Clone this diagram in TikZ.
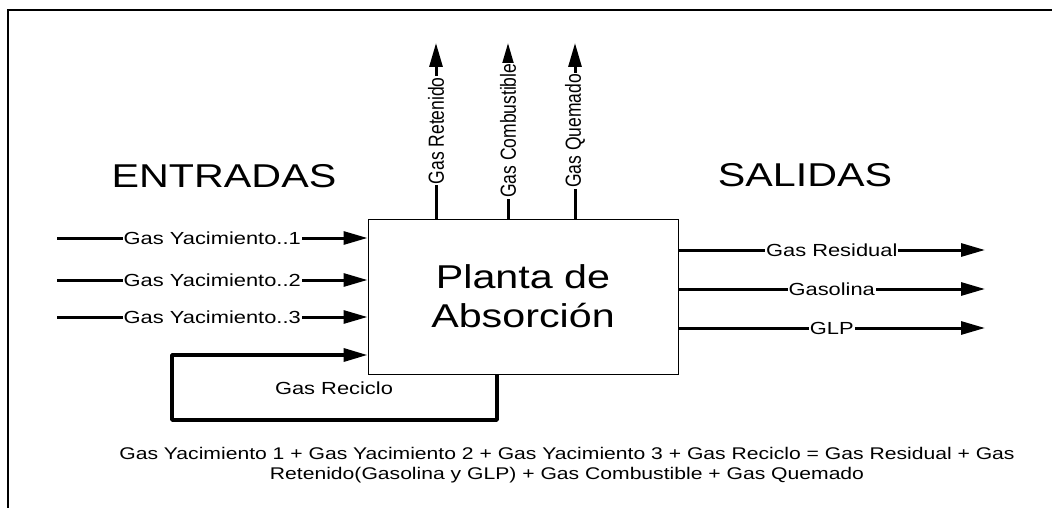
\documentclass[tikz,border=0pt]{standalone}
\usepackage{fontspec}
\setmainfont{Liberation Sans}[FakeStretch=1.25]
\newfontfamily\vertfont{Liberation Sans}
\usetikzlibrary{arrows.meta}
\tikzset{
    flow/.style={line width=3pt, -{Triangle[length=24pt, width=13pt]}},
    lbl/.style={fill=white, inner sep=1pt, font=\fontsize{17.5}{20}\selectfont},
    vlbl/.style={lbl, rotate=90, font=\vertfont\fontsize{17.5}{20}\selectfont},
    titulo/.style={font=\fontsize{33}{39}\selectfont},
}

\begin{document}
\begin{tikzpicture}[x=1pt, y=-1pt]
    \useasboundingbox (0,0) rectangle (1052,508);
    %Frame
    \draw[line width=2.5pt] (8,508) -- (8,10) -- (1052,10);
    %Plant
    \node[draw, line width=1pt, minimum width=310pt, minimum height=155pt, align=center, titulo] (planta) at (523,296.5) {Planta de\\Absorci\'on};
    \node[titulo] (entradas) at (224,176) {ENTRADAS};
    \node[titulo] (salidas) at (805,175) {SALIDAS};
    %Inputs
    \foreach \i/\y in {1/238,2/280,3/317}{
        \coordinate (in\i) at (57,\y);
        \draw[flow] (in\i) -- (in\i -| planta.west) node[lbl, midway] (lin\i) {Gas Yacimiento..\i};
    };
    %Outputs
    \foreach \n/\y/\t in {res/250/Gas Residual, gasol/289/Gasolina, glp/328/GLP}{
        \coordinate (\n) at (985,\y);
        \draw[flow] (planta.east |- \n) -- (\n) node[lbl, midway] (l\n) {\t};
    };
    \foreach \n/\x/\t in {ret/436/Gas Retenido, comb/508/Gas Combustible, quem/575/Gas Quemado}{
        \coordinate (\n) at (\x,43);
        \draw[flow] (planta.north -| \n) -- (\n) node[vlbl, midway] (l\n) {\scalebox{1}[1.25]{\t}};
    };
    %Recycle
    \coordinate (rc) at (172,420);
    \draw[flow, line width=3.5pt, line join=round] (planta.south -| 497,0) |- (rc) |- (planta.west |- 0,355);
    \node[lbl] (lrc) at (334,388) {Gas Reciclo};
    %Balance
    \node[lbl, align=center, font=\fontsize{16.9}{20}\selectfont] (balance) at (567,465) {Gas Yacimiento 1 + Gas Yacimiento 2 + Gas Yacimiento 3 + Gas Reciclo = Gas Residual + Gas\\Retenido(Gasolina y GLP) + Gas Combustible + Gas Quemado};
\end{tikzpicture}
\end{document}
